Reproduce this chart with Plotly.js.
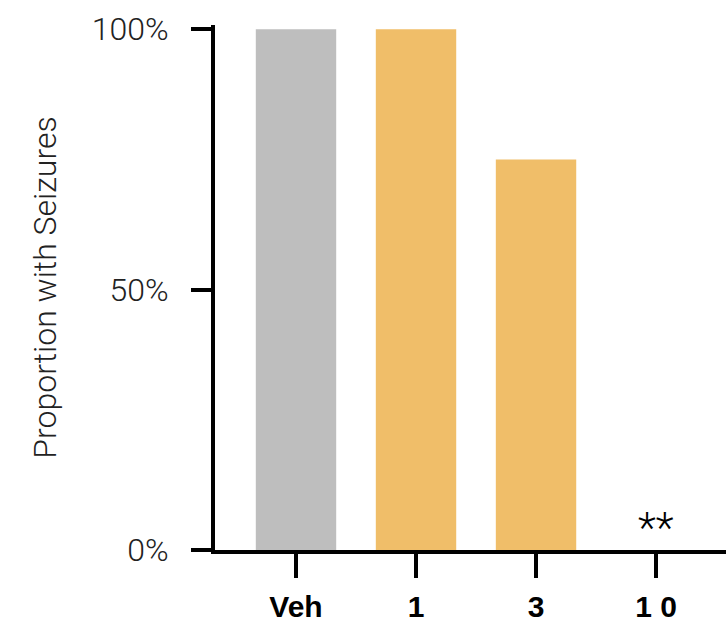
<!DOCTYPE html>
<html>
<head>
<meta charset="utf-8">
<script src="https://cdn.plot.ly/plotly-3.0.1.min.js"></script>
<style>html,body{margin:0;padding:0;background:#fff;}</style>
</head>
<body>
<div id="chart" style="width:726px;height:623px;"></div>
<script>
const categories = ["Veh", "1", "3", "1 0"];
const proportions = [100, 100, 75, 0];
const barColors = ["#bebebe", "#f0be69", "#f0be69", "#f0be69"];
const yTickValues = [0, 50, 100];
const yTickLabels = ["0%", "50%", "100%"];
const significance = {category: "1 0", label: "**"};

const trace = {
  type: "bar",
  x: categories,
  y: proportions,
  marker: {color: barColors, line: {width: 0}},
  hoverinfo: "skip"
};

const layout = {
  width: 726, height: 623,
  margin: {l: 215, r: 0, t: 25, b: 73},
  paper_bgcolor: "#fff", plot_bgcolor: "#fff",
  showlegend: false,
  bargap: 0.33,
  xaxis: {
    type: "category",
    range: [-0.675, 3.583],
    showline: true, linecolor: "#000", linewidth: 4,
    ticks: "outside", ticklen: 24, tickwidth: 4, tickcolor: "#000",
    showgrid: false, zeroline: false,
    ticklabelstandoff: 3,
    tickfont: {family: "Liberation Sans, Arial, sans-serif", size: 30, color: "#000", weight: "bold"}
  },
  yaxis: {
    range: [0, 100.8],
    tickvals: yTickValues, ticktext: yTickLabels,
    showline: true, linecolor: "#000", linewidth: 4,
    ticks: "outside", ticklen: 20, tickwidth: 4, tickcolor: "#000",
    showgrid: false, zeroline: false,
    ticklabelstandoff: 16,
    tickfont: {family: "Roboto, sans-serif", size: 32, color: "#222", weight: 300},
    title: {text: "Proportion with Seizures", standoff: 26,
      font: {family: "Roboto, sans-serif", size: 32, color: "#222", weight: 300}}
  },
  shapes: [{
    type: "line", xref: "paper", yref: "paper",
    x0: -21/511, x1: 0, y0: 0, y1: 0,
    line: {color: "#000", width: 4}
  }],
  annotations: [{
    x: significance.category, y: 0, xref: "x", yref: "y",
    text: significance.label, showarrow: false,
    yanchor: "bottom", yshift: -4,
    font: {family: "Roboto, sans-serif", size: 42, color: "#000", weight: 300}
  }]
};

Plotly.newPlot("chart", [trace], layout, {displayModeBar: false, staticPlot: true});
</script>
</body>
</html>
